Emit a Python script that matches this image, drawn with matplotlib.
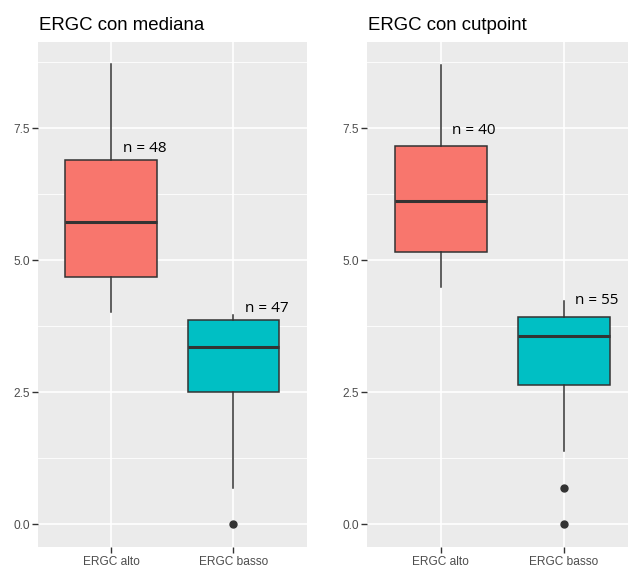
import matplotlib
matplotlib.use("Agg")
import matplotlib.pyplot as plt
from matplotlib.ticker import FixedLocator

# ERGC groups, two ways of splitting the patients
groups = ["ERGC alto", "ERGC basso"]
fill_colors = ["#F8766D", "#00BFC4"]

# split on the median
med_whislo = [4.02, 0.69]
med_q1 = [4.68, 2.51]
med_median = [5.73, 3.35]
med_q3 = [6.89, 3.86]
med_whishi = [8.71, 3.97]
med_fliers = [[], [0.0]]
med_n = [48, 47]
med_label_y = [7.11, 4.08]

# split on the cutpoint
cut_whislo = [4.49, 1.39]
cut_q1 = [5.16, 2.64]
cut_median = [6.12, 3.57]
cut_q3 = [7.16, 3.93]
cut_whishi = [8.70, 4.22]
cut_fliers = [[], [0.69, 0.0]]
cut_n = [40, 55]
cut_label_y = [7.46, 4.24]

y_ticks = [0.0, 2.5, 5.0, 7.5]
y_minor = [1.25, 3.75, 6.25, 8.75]

plt.rcParams["font.family"] = ["Liberation Sans", "DejaVu Sans"]

fig = plt.figure(figsize=(6.28, 5.70), dpi=100)


def ggbox(ax, title, whislo, q1, med, q3, whishi, fliers, ns, label_y, xmax):
    ax.set_facecolor("#EBEBEB")
    for s in ax.spines.values():
        s.set_visible(False)

    stats = []
    for i in range(len(groups)):
        stats.append(dict(whislo=whislo[i], q1=q1[i], med=med[i], q3=q3[i],
                          whishi=whishi[i], fliers=fliers[i]))
    bp = ax.bxp(stats, positions=[1, 2], widths=0.75, patch_artist=True,
                showcaps=False, manage_ticks=False,
                boxprops=dict(edgecolor="#333333", linewidth=1.1),
                whiskerprops=dict(color="#333333", linewidth=1.1),
                medianprops=dict(color="#333333", linewidth=2.2),
                flierprops=dict(marker="o", markerfacecolor="#333333",
                                markeredgecolor="#333333", markersize=5))
    for patch, c in zip(bp["boxes"], fill_colors):
        patch.set_facecolor(c)

    ax.set_xlim(0.4, xmax)
    ax.set_ylim(-0.435, 9.135)

    # ggplot-like grid
    ax.yaxis.set_major_locator(FixedLocator(y_ticks))
    ax.yaxis.set_minor_locator(FixedLocator(y_minor))
    ax.set_xticks([1, 2])
    ax.set_xticks([], minor=True)
    ax.grid(True, which="major", color="white", linewidth=1.2)
    ax.grid(True, which="minor", axis="y", color="white", linewidth=0.6)
    ax.set_axisbelow(True)

    # sample size next to each box
    for i in range(len(groups)):
        ax.text(i + 1.27, label_y[i], "n = %d" % ns[i], ha="center", va="center",
                fontsize=11, family=["Open Sans", "DejaVu Sans"], color="black")

    ax.set_xticklabels(groups)
    ax.set_yticklabels(["%.1f" % v for v in y_ticks])
    ax.tick_params(axis="both", which="major", length=4, width=1, color="#333333",
                   labelsize=8.6, labelcolor="#4D4D4D", pad=2)
    ax.tick_params(axis="y", which="minor", length=0)

    pos = ax.get_position()
    fig.text(pos.x0 + 0.001, 1 - 29.5 / 570, title, fontsize=13.4,
             ha="left", va="baseline", color="black")


ax1 = fig.add_axes([38 / 628, 22.7 / 570, 268.7 / 628, 505.6 / 570])
ggbox(ax1, "ERGC con mediana", med_whislo, med_q1, med_median, med_q3,
      med_whishi, med_fliers, med_n, med_label_y, 2.6)

ax2 = fig.add_axes([367.3 / 628, 22.7 / 570, 260.7 / 628, 505.6 / 570])
ggbox(ax2, "ERGC con cutpoint", cut_whislo, cut_q1, cut_median, cut_q3,
      cut_whishi, cut_fliers, cut_n, cut_label_y, 2.525)

fig.savefig("out.png", dpi=100)
